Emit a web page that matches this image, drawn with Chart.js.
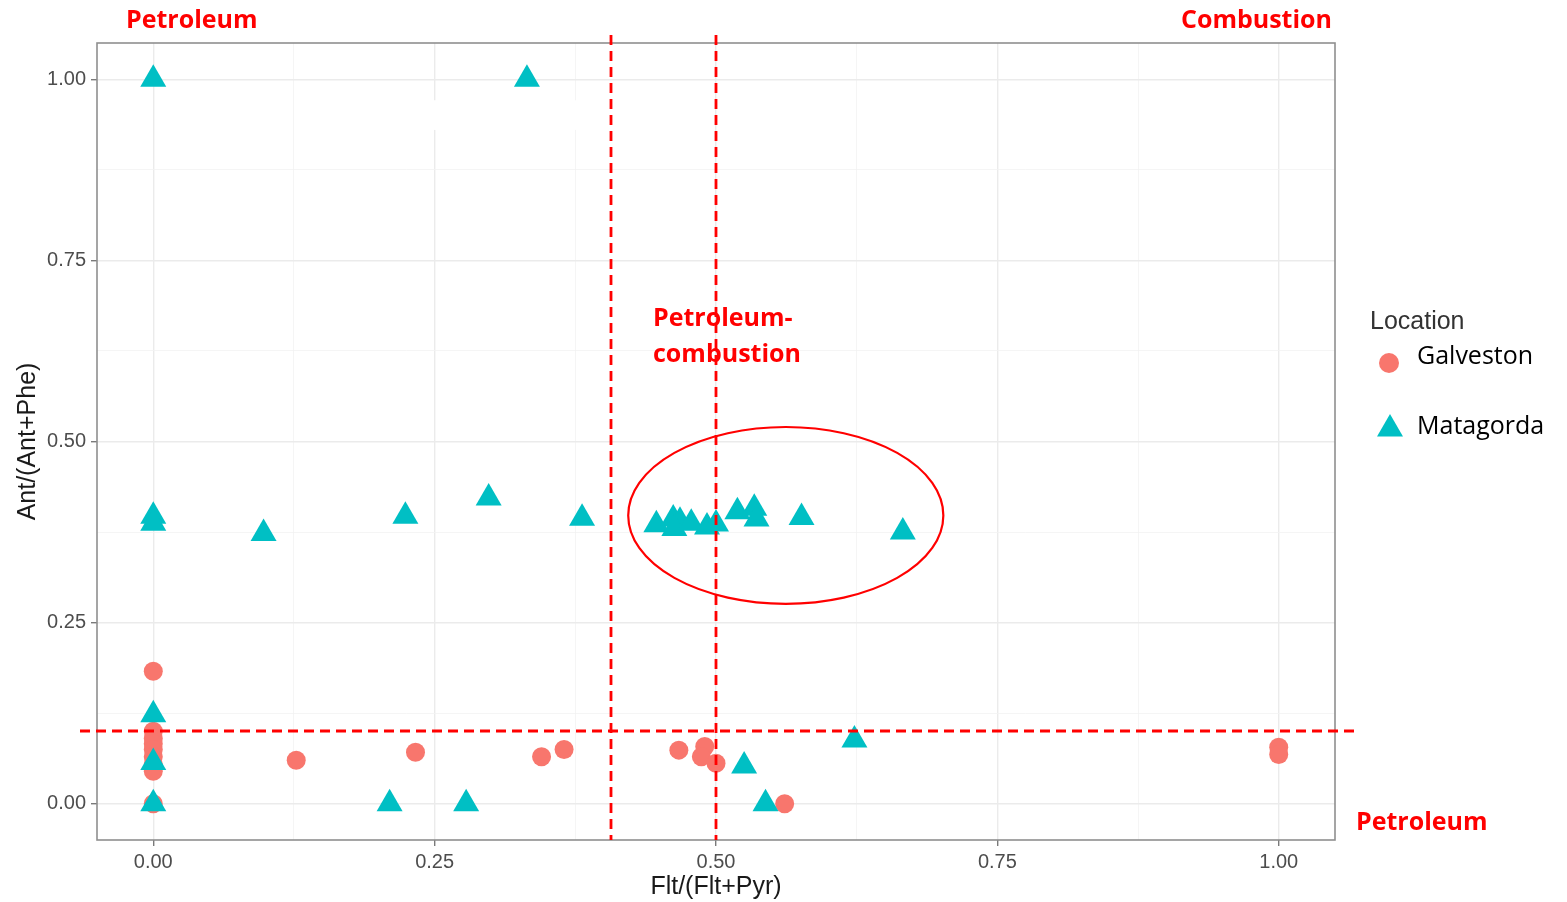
<!DOCTYPE html>
<html>
<head>
<meta charset="utf-8">
<script src="https://cdn.jsdelivr.net/npm/chart.js@4"></script>
<style>
  html, body { margin: 0; padding: 0; background: #fff; }
  #wrap { width: 1567px; height: 902px; position: relative; }
</style>
</head>
<body>
<div id="wrap"><canvas id="ratioChart"></canvas></div>
<script>
// === Data ===
const galvestonX = [0, 0, 0, 0, 0, 0, 0, 0, 0, 0.127, 0.233, 0.345, 0.365, 0.467, 0.49, 0.487, 0.50, 0.561, 1.0, 1.0];
const galvestonY = [0.183, 0.10, 0.09, 0.083, 0.075, 0.065, 0.055, 0.045, 0.0, 0.06, 0.071, 0.065, 0.075, 0.074, 0.079, 0.065, 0.056, 0.0, 0.078, 0.068];

const matagordaX = [0, 0.332, 0, 0, 0.098, 0.224, 0.298, 0.381, 0.447, 0.462, 0.468, 0.463, 0.478, 0.492, 0.50, 0.519, 0.534, 0.536, 0.576, 0.666, 0, 0, 0, 0.21, 0.278, 0.623, 0.525, 0.544];
const matagordaY = [1.0, 1.0, 0.397, 0.387, 0.373, 0.397, 0.422, 0.394, 0.385, 0.393, 0.39, 0.38, 0.387, 0.382, 0.386, 0.403, 0.408, 0.393, 0.395, 0.375, 0.123, 0.057, 0.0, 0.0, 0.0, 0.088, 0.052, 0.0];

const xTicks = [0, 0.125, 0.25, 0.375, 0.5, 0.625, 0.75, 0.875, 1.0];
const yTicks = [0, 0.125, 0.25, 0.375, 0.5, 0.625, 0.75, 0.875, 1.0];

// source cut-offs drawn over the plot
const fltCuts = [0.407, 0.5];
const antCut = 0.1;
// circled cluster: centre and radii in data units
const clusterEllipse = { cx: 0.562, cy: 0.398, rx: 0.140, ry: 0.122 };

const toPoints = (xs, ys) => xs.map((x, i) => ({ x: x, y: ys[i] }));
const isMajor = v => Math.abs(v / 0.25 - Math.round(v / 0.25)) < 1e-6;

const RED = '#ff0000';
const ANNOT_FONT = 'bold 25px "Open Sans", sans-serif';

/* panel border, dashed cut-offs, ellipse, red labels, legend */
const overlay = {
  id: 'overlay',
  beforeDatasetsDraw(chart) {
    const { ctx, scales: { x, y } } = chart;
    // small white patch that hides a bit of grid near the top
    ctx.save();
    ctx.fillStyle = '#fff';
    const l = x.getPixelForValue(0.246), r = x.getPixelForValue(0.378);
    const t = y.getPixelForValue(0.971), b = y.getPixelForValue(0.93);
    ctx.fillRect(l, t, r - l, b - t);
    ctx.restore();
  },
  afterDatasetsDraw(chart) {
    const { ctx, chartArea: a, scales: { x, y } } = chart;
    ctx.save();
    // panel border
    ctx.strokeStyle = '#8f8f8f';
    ctx.lineWidth = 1.6;
    ctx.strokeRect(a.left, a.top, a.right - a.left, a.bottom - a.top);

    // dashed lines
    ctx.strokeStyle = RED;
    ctx.lineWidth = 2.8;
    ctx.setLineDash([10, 6]);
    fltCuts.forEach(v => {
      const px = Math.round(x.getPixelForValue(v));
      ctx.beginPath();
      ctx.moveTo(px, a.top - 8);
      ctx.lineTo(px, a.bottom);
      ctx.stroke();
    });
    const py = Math.round(y.getPixelForValue(antCut));
    ctx.beginPath();
    ctx.moveTo(a.left - 17, py);
    ctx.lineTo(a.right + 20, py);
    ctx.stroke();
    ctx.setLineDash([]);

    // ellipse round the cluster
    const e = clusterEllipse;
    const ecx = x.getPixelForValue(e.cx), ecy = y.getPixelForValue(e.cy);
    const erx = Math.abs(x.getPixelForValue(e.cx + e.rx) - ecx);
    const ery = Math.abs(y.getPixelForValue(e.cy + e.ry) - ecy);
    ctx.lineWidth = 2.2;
    ctx.beginPath();
    ctx.ellipse(ecx, ecy, erx, ery, 0, 0, Math.PI * 2);
    ctx.stroke();

    // red labels
    ctx.fillStyle = RED;
    ctx.font = ANNOT_FONT;
    ctx.textBaseline = 'alphabetic';
    ctx.textAlign = 'left';
    ctx.fillText('Petroleum', 126, 28);
    ctx.fillText('Petroleum-', 653, 326);
    ctx.fillText('combustion', 653, 362);
    ctx.fillText('Petroleum', 1356, 830);
    ctx.textAlign = 'right';
    ctx.fillText('Combustion', 1332, 28);

    // legend
    ctx.textAlign = 'left';
    ctx.textBaseline = 'middle';
    ctx.fillStyle = '#333';
    ctx.font = '25px "Liberation Sans", Arial, sans-serif';
    ctx.fillText('Location', 1370, 322);
    ctx.font = '25px "Open Sans", sans-serif';
    const keyY = [363, 429];
    const textY = [357, 427];
    chart.data.datasets.forEach((ds, i) => {
      const ly = keyY[i];
      ctx.fillStyle = ds.backgroundColor;
      if (ds.pointStyle === 'triangle') {
        const r = 15;
        ctx.beginPath();
        ctx.moveTo(1390, ly - r);
        ctx.lineTo(1390 + r * 0.866, ly + r / 2);
        ctx.lineTo(1390 - r * 0.866, ly + r / 2);
        ctx.closePath();
        ctx.fill();
      } else {
        ctx.beginPath();
        ctx.arc(1389, ly, 10, 0, Math.PI * 2);
        ctx.fill();
      }
      ctx.fillStyle = '#000';
      ctx.fillText(ds.label, 1417, textY[i]);
    });
    ctx.restore();
  }
};

const gridColor = c => isMajor(c.tick.value) ? '#ebebeb' : '#f3f3f3';
const gridWidth = c => isMajor(c.tick.value) ? 1.4 : 0.8;
const tickColor = c => isMajor(c.tick.value) ? '#7a7a7a' : 'rgba(0,0,0,0)';
const tickLabel = v => isMajor(v) ? v.toFixed(2) : '';

const ratioChart = new Chart(document.getElementById('ratioChart'), {
  type: 'scatter',
  data: {
    datasets: [
      {
        label: 'Galveston',
        data: toPoints(galvestonX, galvestonY),
        pointStyle: 'circle',
        backgroundColor: '#F8766D',
        borderWidth: 0,
        pointRadius: 9.5,
        pointHoverRadius: 9.5,
        order: 1
      },
      {
        label: 'Matagorda',
        data: toPoints(matagordaX, matagordaY),
        pointStyle: 'triangle',
        backgroundColor: '#00BFC4',
        borderWidth: 0,
        pointRadius: 15,
        pointHoverRadius: 15,
        order: 0
      }
    ]
  },
  options: {
    responsive: true,
    maintainAspectRatio: false,
    animation: false,
    layout: { padding: { top: 43, right: 232, left: 0, bottom: 0 } },
    plugins: { legend: { display: false }, tooltip: { enabled: false } },
    scales: {
      x: {
        type: 'linear',
        min: -0.05, max: 1.05,
        afterBuildTicks: s => { s.ticks = xTicks.map(v => ({ value: v })); },
        afterFit: s => { s.height = 62; },
        grid: { color: gridColor, lineWidth: gridWidth, tickColor: tickColor, tickLength: 6, tickWidth: 1.4 },
        border: { display: false },
        ticks: {
          callback: tickLabel, autoSkip: false, maxRotation: 0, padding: 4,
          color: '#4d4d4d', font: { family: '"Liberation Sans", Arial, sans-serif', size: 20 }
        },
        title: {
          display: true, text: 'Flt/(Flt+Pyr)', color: '#1a1a1a',
          padding: { top: 0, bottom: 0 },
          font: { family: '"Liberation Sans", Arial, sans-serif', size: 25 }
        }
      },
      y: {
        type: 'linear',
        min: -0.05, max: 1.05,
        afterBuildTicks: s => { s.ticks = yTicks.map(v => ({ value: v })); },
        afterFit: s => { s.width = 97; },
        grid: { color: gridColor, lineWidth: gridWidth, tickColor: tickColor, tickLength: 6, tickWidth: 1.4 },
        border: { display: false },
        ticks: {
          callback: tickLabel, autoSkip: false, padding: 5,
          color: '#4d4d4d', font: { family: '"Liberation Sans", Arial, sans-serif', size: 20 }
        },
        title: {
          display: true, text: 'Ant/(Ant+Phe)', color: '#1a1a1a',
          padding: { top: 13, bottom: 0 },
          font: { family: '"Liberation Sans", Arial, sans-serif', size: 25 }
        }
      }
    }
  },
  plugins: [overlay]
});
</script>
</body>
</html>
